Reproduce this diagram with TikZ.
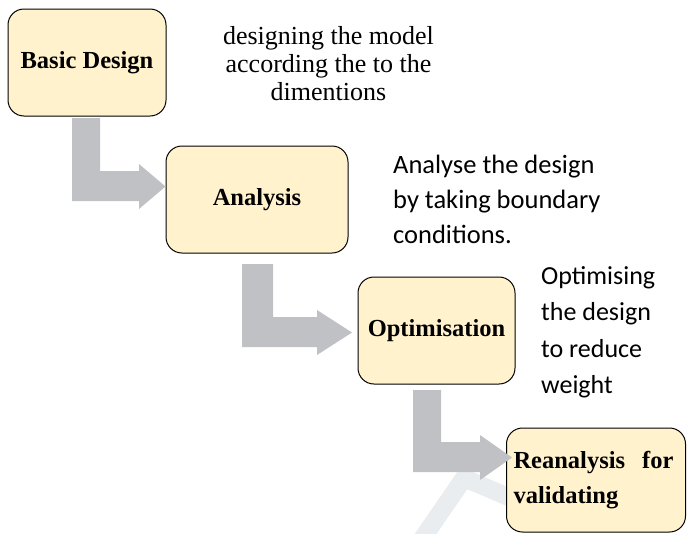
\documentclass[tikz,border=0pt]{standalone}
\usepackage{fontspec}
\setmainfont{Liberation Serif}
\newfontfamily\calibrifont{Carlito}
\definecolor{boxfill}{HTML}{FFF2CC}
\definecolor{arrowgray}{HTML}{BFC1C5}
\definecolor{markgray}{HTML}{EAEDF0}

\begin{document}
\begin{tikzpicture}[x=1pt,y=-1pt,
  stagebox/.style={draw=black, line width=1pt, fill=boxfill, rounded corners=16pt,
    inner sep=0pt, font=\fontsize{24.5}{35}\selectfont\bfseries},
  flowarrow/.style={fill=arrowgray, draw=none},
  note/.style={inner sep=0pt, anchor=base west, align=left,
    font=\calibrifont\fontsize{26.5}{35}\selectfont},
  serifnote/.style={inner sep=0pt, anchor=base, align=center,
    font=\fontsize{26}{28}\selectfont},
]
\useasboundingbox (0,0) rectangle (687,533);

% faint mark behind the last stage
\draw[markgray, line width=18pt, line join=round] (418,545) -- (464,478) -- (520,502);

% process stages
\node[stagebox, minimum width=158pt, minimum height=107pt] (design) at (87,62.5) {Basic Design};
\node[stagebox, minimum width=182pt, minimum height=107pt] (analysis) at (257,199.5) {Analysis};
\node[stagebox, minimum width=157pt, minimum height=107pt] (optim) at (436.5,330.5) {Optimisation};
\node[stagebox, minimum width=179pt, minimum height=104pt, text width=165pt, align=left,
  inner xsep=7pt] (reanalysis) at (596,480)
  {Reanalysis\hspace{17pt}for\\validating};

% descriptions (placed by the baseline of their last line)
\node[serifnote] (designnote) at (328.5,100) {designing the model\\according the to the\\dimentions};
\node[note] (analysisnote) at (393,243) {Analyse the design\\by taking boundary\\conditions.};
\node[note, font=\calibrifont\fontsize{26}{36.5}\selectfont] (optimnote) at (541,393.5)
  {Optimising\\the design\\to reduce\\weight};

% bent block arrows between the stages
\fill[flowarrow] (72,118) -- (100,118) -- (100,171) -- (139,171) -- (139,164)
  -- (analysis.west |- 0,186.5) -- (139,209) -- (139,201) -- (72,201) -- cycle;
\fill[flowarrow] (242,264) -- (273,264) -- (273,317) -- (317,317) -- (317,310)
  -- (352,332.5) -- (317,355) -- (317,347) -- (242,347) -- cycle;
\fill[flowarrow] (413,390) -- (441,390) -- (441,442) -- (480,442) -- (480,435)
  -- (512,457.5) -- (480,480) -- (480,472) -- (413,472) -- cycle;
\end{tikzpicture}
\end{document}
